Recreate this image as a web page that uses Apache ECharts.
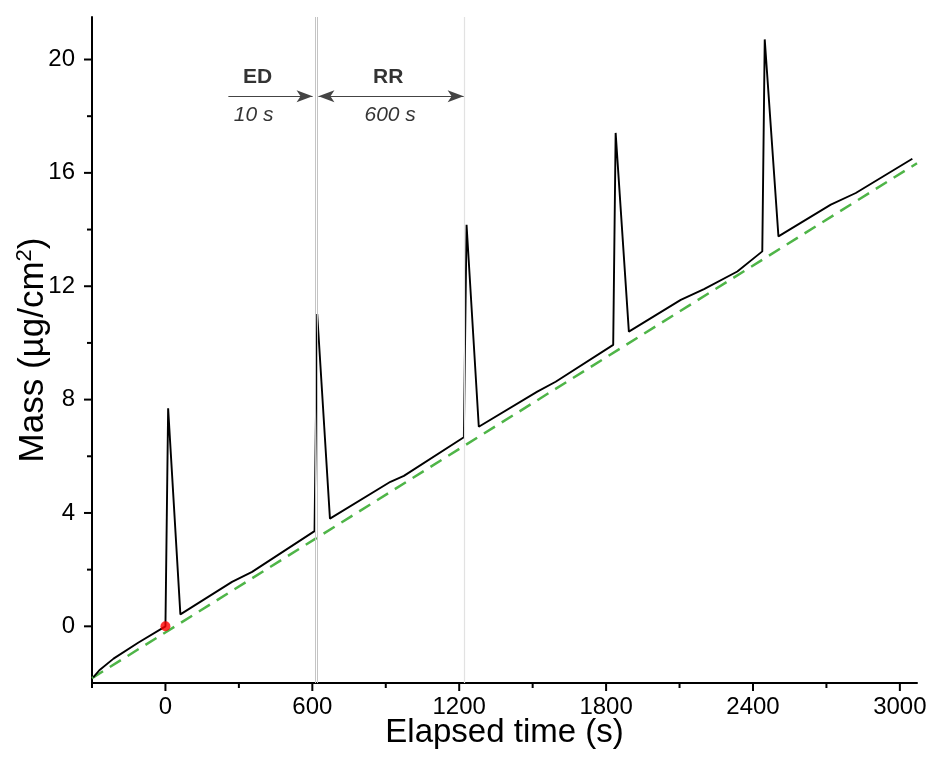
<!DOCTYPE html>
<html>
<head>
<meta charset="utf-8">
<script src="https://cdn.jsdelivr.net/npm/echarts@6/dist/echarts.min.js"></script>
<style>html,body{margin:0;padding:0;background:#fff;}#c{width:935px;height:769px;}</style>
</head>
<body>
<div id="c"></div>
<script>
// Black mass trace (time in s, mass in µg/cm²)
const timeData = [-295, -270, -212, -110, 0, 11, 61, 272, 354, 609, 620, 672, 919, 974, 1219, 1230, 1280, 1519, 1594, 1829, 1839, 1893, 2105, 2200, 2336, 2438, 2448, 2504, 2718, 2820, 3051];
const massData = [-1.8, -1.55, -1.14, -0.57, 0, 7.69, 0.42, 1.57, 1.92, 3.36, 11.02, 3.80, 5.10, 5.31, 6.67, 14.17, 7.04, 8.28, 8.63, 9.93, 17.41, 10.40, 11.52, 11.90, 12.52, 13.23, 20.71, 13.76, 14.88, 15.29, 16.50];
// Green dashed baseline trend
const trendTime = [-300, 3070];
const trendMass = [-1.83, 16.34];
// Red start point
const startPoint = [0, 0];
// Vertical reference lines (s)
const refLinesDark = [610, 620];
const refLinesLight = [1220];
// Axis ticks
const xTicks = [0, 600, 1200, 1800, 2400, 3000];
const xMinorTicks = [-300, 300, 900, 1500, 2100, 2700];
const yTicks = [0, 4, 8, 12, 16, 20];
const yMinorTicks = [2, 6, 10, 14, 18];
// Annotations
const edArrow = [[257, 18.7], [601, 18.7]];
const rrArrow = [[625, 18.7], [1218, 18.7]];
const annotTexts = [
  {text: 'ED', pos: [376, 19.36], bold: true},
  {text: '10 s', pos: [360, 18.05], bold: false},
  {text: 'RR', pos: [910, 19.36], bold: true},
  {text: '600 s', pos: [918, 18.05], bold: false}
];

const FONT = 'Liberation Sans';
const chart = echarts.init(document.getElementById('c'), null, {renderer: 'canvas'});

const xRange = {min: -300, max: 3070};
const yRange = {min: -2, max: 21.5};

// Tick marks drawn through the axes' own scales (api.coord)
function tickSeries(values, dim, len) {
  return {
    type: 'custom', silent: true, clip: false, z: 10,
    data: values.map(v => dim === 'x' ? [v, yRange.min] : [xRange.min, v]),
    renderItem: function (params, api) {
      const p = api.coord([api.value(0), api.value(1)]);
      const shape = dim === 'x'
        ? {x1: p[0], y1: p[1], x2: p[0], y2: p[1] + len}
        : {x1: p[0], y1: p[1], x2: p[0] - len, y2: p[1]};
      return {type: 'line', shape: shape, style: {stroke: '#000', lineWidth: 2}};
    }
  };
}

const option = {
  backgroundColor: '#fff',
  animation: false,
  grid: {left: 92, right: 18, top: 17, bottom: 86, containLabel: false, outerBoundsMode: 'none'},
  xAxis: {
    type: 'value', min: xRange.min, max: xRange.max, position: 'bottom',
    name: 'Elapsed time (s)', nameLocation: 'middle', nameGap: 33, nameMoveOverlap: false,
    nameTextStyle: {fontFamily: FONT, fontSize: 33, color: '#000'},
    axisLine: {show: true, onZero: false, lineStyle: {color: '#000', width: 2}},
    axisTick: {show: false},
    axisLabel: {show: true, margin: 12, fontFamily: FONT, fontSize: 24, color: '#000',
      customValues: xTicks, formatter: v => String(v)},
    splitLine: {show: false}
  },
  yAxis: {
    type: 'value', min: yRange.min, max: yRange.max, position: 'left',
    name: 'Mass (µg/cm{sup|2})', nameLocation: 'middle', nameGap: 40, nameRotate: 90, nameMoveOverlap: false,
    nameTextStyle: {fontFamily: FONT, fontSize: 35, color: '#000',
      rich: {sup: {fontFamily: FONT, fontSize: 22, color: '#000', padding: [0, 0, 16, 0]}}},
    axisLine: {show: true, onZero: false, lineStyle: {color: '#000', width: 2}},
    axisTick: {show: false},
    axisLabel: {show: true, margin: 17, fontFamily: FONT, fontSize: 24, color: '#000',
      customValues: yTicks, formatter: v => String(v)},
    splitLine: {show: false}
  },
  series: [
    {
      type: 'line', name: 'trend',
      data: trendTime.map((t, i) => [t, trendMass[i]]),
      showSymbol: false, symbol: 'none', silent: true,
      lineStyle: {color: '#4fb548', width: 2.5, type: [13, 8]},
      z: 2
    },
    {
      type: 'line', name: 'mass',
      data: timeData.map((t, i) => [t, massData[i]]),
      showSymbol: false, symbol: 'none', silent: true,
      lineStyle: {color: '#000', width: 1.9},
      z: 3,
      markLine: {
        silent: true, symbol: ['none', 'none'], label: {show: false},
        data: refLinesDark.map(v => ({xAxis: v, lineStyle: {color: '#c4c4c4', width: 1, type: 'solid'}}))
          .concat(refLinesLight.map(v => ({xAxis: v, lineStyle: {color: '#e2e2e2', width: 1.2, type: 'solid'}})))
      }
    },
    {
      type: 'line', name: 'arrows', data: [],
      silent: true,
      markLine: {
        silent: true, label: {show: false},
        lineStyle: {color: '#444', width: 1.2, type: 'solid'},
        data: [
          [{coord: edArrow[0], symbol: 'none'}, {coord: edArrow[1], symbol: 'arrow', symbolSize: [9, 16]}],
          [{coord: rrArrow[0], symbol: 'arrow', symbolSize: [9, 16]}, {coord: rrArrow[1], symbol: 'arrow', symbolSize: [9, 16]}]
        ]
      }
    },
    {
      type: 'scatter', name: 'start', data: [startPoint], symbolSize: 10,
      itemStyle: {color: '#ff0000'}, silent: true, z: 5
    },
    {
      type: 'scatter', name: 'annot', symbolSize: 0, silent: true, z: 6,
      data: annotTexts.map(a => ({
        value: a.pos,
        label: {show: true, position: 'inside', formatter: a.text,
          fontFamily: FONT, fontSize: 21, color: '#000',
          fontWeight: a.bold ? 'bold' : 'normal', fontStyle: a.bold ? 'normal' : 'italic'}
      }))
    },
    tickSeries(xTicks, 'x', 8),
    tickSeries(xMinorTicks, 'x', 5),
    tickSeries(yTicks, 'y', 8),
    tickSeries(yMinorTicks, 'y', 5)
  ]
};
chart.setOption(option);
</script>
</body>
</html>
